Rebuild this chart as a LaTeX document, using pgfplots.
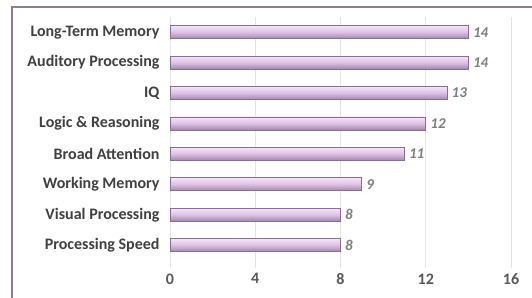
\documentclass[border=0pt]{standalone}
\usepackage{pgfplots}
\pgfplotsset{compat=1.18}
\usepackage{fontspec}
\setmainfont{Carlito}
\definecolor{lbl}{HTML}{404040}
\definecolor{tick}{HTML}{595959}
\definecolor{val}{HTML}{7F7F7F}
\definecolor{bartop}{HTML}{F4E6F6}
\definecolor{barmid}{HTML}{DCC0E3}
\definecolor{barbot}{HTML}{A284AE}
\definecolor{barline}{HTML}{8A6C98}
\definecolor{frame}{HTML}{8C7E90}
\definecolor{gridc}{HTML}{E4E4E4}
\tikzset{barsty/.style={draw=barline, line width=0.7pt, top color=bartop, bottom color=barbot, middle color=barmid}}
\begin{document}
\begin{tikzpicture}
\useasboundingbox (0,0) rectangle (532pt,297pt);
\fill[white] (0,0) rectangle (532pt,297pt);
\draw[frame, line width=1.6pt] (12pt,-20pt) rectangle (560pt,290pt);
\begin{axis}[
  at={(170pt,29pt)}, anchor=south west,
  width=341pt, height=251pt, scale only axis,
  xbar, bar width=13pt, bar shift=0pt,
  xmin=0, xmax=16, xtick={0,4,8,12,16},
  ymin=-0.75, ymax=7.5,
  ytick={0,...,7},
  yticklabels={Processing Speed,Visual Processing,Working Memory,Broad Attention,Logic \& Reasoning,IQ,Auditory Processing,Long-Term Memory},
  axis line style={draw=none},
  major tick length=0pt,
  xmajorgrids, major grid style={gridc, line width=0.8pt},
  ymajorgrids=false,
  ticklabel style={font=\fontsize{16}{18}\selectfont\bfseries, text=lbl},
  xticklabel style={text=tick, yshift=-2pt},
  yticklabel style={xshift=-7pt},
  /pgf/number format/assume math mode=true,
  nodes near coords,
  every node near coord/.append style={font=\fontsize{15}{17}\selectfont\bfseries\itshape, text=val, xshift=1pt},
  clip=false,
]
\addplot[barsty] coordinates {(8,0)};
\addplot[barsty] coordinates {(8,1)};
\addplot[barsty] coordinates {(9,2)};
\addplot[barsty] coordinates {(11,3)};
\addplot[barsty] coordinates {(12,4)};
\addplot[barsty] coordinates {(13,5)};
\addplot[barsty] coordinates {(14,6)};
\addplot[barsty] coordinates {(14,7)};
\end{axis}
\end{tikzpicture}
\end{document}
